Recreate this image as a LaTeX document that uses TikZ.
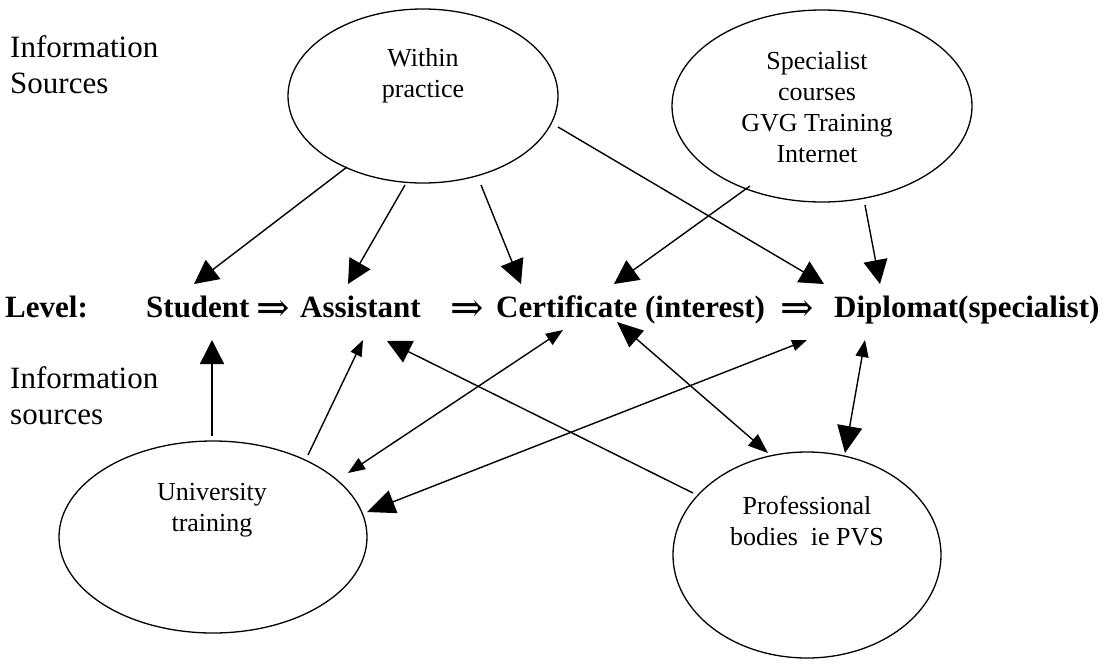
\documentclass[tikz,border=0pt]{standalone}
\usepackage{fontspec}
\setmainfont{Liberation Serif}
\newfontfamily\arrfont{DejaVu Serif}
\usetikzlibrary{arrows.meta,shapes.geometric}
\begin{document}
\begin{tikzpicture}[x=1pt,y=-1pt,
  ell/.style={draw,ellipse,line width=1.3pt,inner sep=0pt},
  etext/.style={font=\fontsize{26}{31}\selectfont,align=center,inner sep=0pt},
  side/.style={font=\fontsize{31}{36}\selectfont,align=left,anchor=west,inner sep=0pt},
  lvl/.style={font=\fontsize{31}{36}\selectfont\bfseries,anchor=base west,inner sep=0pt},
  imp/.style={font=\arrfont\fontsize{40}{44}\selectfont,anchor=base west,inner sep=0pt},
  conn/.style={line width=1.4pt},
  big/.style={conn,-{Triangle[length=24pt,width=24pt]}},
  small/.style={conn,-{Triangle[length=16pt,width=12pt]}}
]
\useasboundingbox[fill=white] (0,0) rectangle (1109,662);

% ellipses
\node[ell,minimum width=270pt,minimum height=174pt] (W) at (423,96) {};
\node[ell,minimum width=300pt,minimum height=192pt] (S) at (822,106) {};
\node[ell,minimum width=308pt,minimum height=192pt] (U) at (213,537) {};
\node[ell,minimum width=268pt,minimum height=206pt] (P) at (807,555) {};

\node[etext] (Wt) at (423,76) {Within\\practice};
\node[etext] (St) at (817,107) {Specialist\\courses\\GVG Training\\Internet};
\node[etext] (Ut) at (212,510) {University\\training};
\node[etext] (Pt) at (807,521) {Professional\\bodies\ \ ie PVS};

% side labels
\node[side] (is1) at (10,65) {Information\\Sources};
\node[side] (is2) at (10,396) {Information\\sources};

% level row
\node[lvl] (lv) at (5,317) {Level:};
\node[lvl] (stu) at (146,317) {Student};
\node[imp] (a1) at (256,321) {⇒};
\node[lvl] (ast) at (300,317) {Assistant};
\node[imp] (a2) at (450,321) {⇒};
\node[lvl] (cer) at (496,317) {Certificate (interest)};
\node[imp] (a3) at (780,321) {⇒};
\node[lvl] (dip) at (834,317) {Diplomat(specialist)};

% connectors from above
\draw[big] ([shift={(-76,71)}]W.center) -- ([shift={(48,-33)}]stu.base west);
\draw[big] ([shift={(-18,89)}]W.center) -- ([shift={(48,-33)}]ast.base west);
\draw[big] ([shift={(58,89)}]W.center) -- ([shift={(25,-33)}]cer.base west);
\draw[big] ([shift={(135,31)}]W.center) -- ([shift={(-10,-33)}]dip.base west);
\draw[big] ([shift={(-72,80)}]S.center) -- ([shift={(118,-33)}]cer.base west);
\draw[big] ([shift={(43,99)}]S.center) -- ([shift={(46,-33)}]dip.base west);

% connectors from below
\draw[big] ([shift={(-1,-101)}]U.center) -- ([shift={(66,23)}]stu.base west);
\draw[small] ([shift={(95,-82)}]U.center) -- ([shift={(63,23)}]ast.base west);
\draw[big] ([shift={(-114,-62)}]P.center) -- ([shift={(87,24)}]ast.base west);
\draw[conn,{Triangle[length=17pt,width=13pt]}-{Triangle[length=17pt,width=13pt]}]
  ([shift={(135,-64)}]U.center) -- ([shift={(67,13)}]cer.base west);
\draw[conn,{Triangle[length=26pt,width=22pt]}-{Triangle[length=20pt,width=15pt]}]
  ([shift={(121,5)}]cer.base west) -- ([shift={(-39,-102)}]P.center);
\draw[conn,{Triangle[length=28pt,width=24pt]}-{Triangle[length=15pt,width=11pt]}]
  ([shift={(154,-25)}]U.center) -- ([shift={(-27,23)}]dip.base west);
\draw[conn,{Triangle[length=17pt,width=13pt]}-{Triangle[length=27pt,width=25pt]}]
  ([shift={(31,23)}]dip.base west) -- ([shift={(38,-102)}]P.center);
\end{tikzpicture}
\end{document}
